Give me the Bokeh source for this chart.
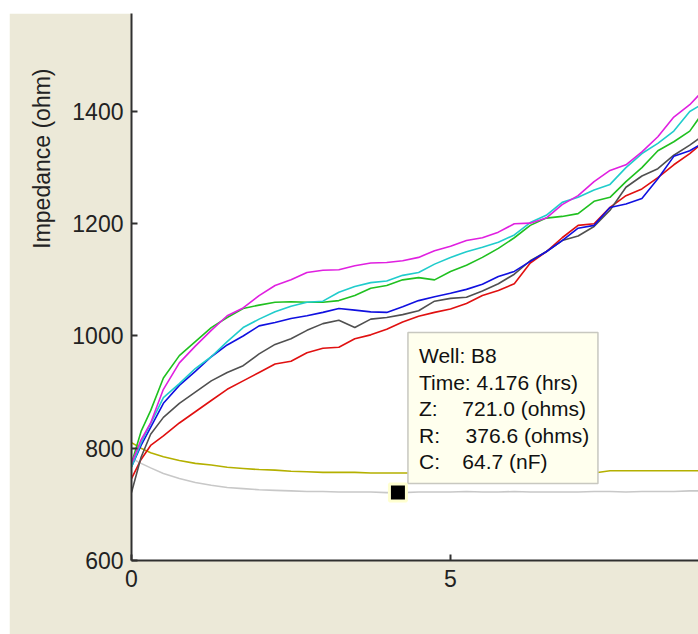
from bokeh.plotting import figure
from bokeh.models import Range1d, FixedTicker, Title, Spacer
from bokeh.layouts import column, row
from bokeh.embed import file_html
from bokeh.resources import INLINE
from bokeh.core.properties import value

# ---- data ----
time_hrs = [0, 0.15, 0.3, 0.5, 0.75, 1.0, 1.25, 1.5, 1.75, 2.0, 2.25, 2.5, 2.75, 3.0,
            3.25, 3.5, 3.75, 4.0, 4.25, 4.5, 4.75, 5.0, 5.25, 5.5, 5.75, 6.0, 6.25,
            6.5, 6.75, 7.0, 7.25, 7.5, 7.75, 8.0, 8.25, 8.5, 8.75, 8.9]

well_magenta = [773, 815, 845, 905, 952, 982, 1010, 1036, 1050, 1072, 1090, 1100, 1113, 1117,
                1118, 1125, 1130, 1131, 1134, 1140, 1152, 1160, 1170, 1175, 1185, 1200, 1201,
                1210, 1234, 1250, 1275, 1295, 1305, 1328, 1355, 1390, 1412, 1430]
well_cyan = [766, 810, 844, 890, 915, 942, 963, 990, 1015, 1030, 1043, 1053, 1060, 1062,
             1078, 1088, 1095, 1098, 1108, 1113, 1128, 1140, 1150, 1158, 1167, 1180, 1202,
             1215, 1238, 1247, 1260, 1270, 1300, 1325, 1343, 1365, 1400, 1410]
well_green = [773, 830, 867, 925, 965, 990, 1015, 1033, 1049, 1055, 1060, 1061, 1060, 1060,
              1063, 1072, 1085, 1090, 1100, 1104, 1100, 1115, 1126, 1140, 1156, 1175, 1197,
              1210, 1213, 1218, 1240, 1247, 1275, 1300, 1330, 1346, 1365, 1389]
well_blue = [767, 805, 837, 880, 912, 937, 963, 984, 1000, 1018, 1024, 1031, 1036, 1042,
             1049, 1046, 1043, 1042, 1052, 1063, 1070, 1076, 1083, 1092, 1106, 1115, 1133,
             1150, 1170, 1192, 1197, 1229, 1235, 1245, 1280, 1320, 1330, 1340]
well_gray = [721, 784, 825, 855, 880, 900, 920, 935, 947, 968, 985, 995, 1010, 1022,
             1028, 1015, 1030, 1033, 1038, 1045, 1062, 1067, 1069, 1080, 1093, 1110, 1134,
             1150, 1170, 1178, 1195, 1224, 1265, 1285, 1298, 1322, 1340, 1352]
well_red = [746, 780, 805, 822, 845, 865, 885, 905, 920, 935, 950, 955, 970, 978,
            980, 995, 1002, 1012, 1025, 1035, 1042, 1048, 1058, 1072, 1081, 1093, 1130,
            1150, 1175, 1197, 1200, 1229, 1250, 1262, 1282, 1305, 1325, 1339]
well_olive = [810, 800, 792, 785, 778, 773, 770, 766, 764, 762, 761, 759, 758, 757,
              757, 757, 756, 756, 756, 756, 756, 756, 756, 756, 756, 756, 756,
              756, 756, 756, 756, 760, 760, 760, 760, 760, 760, 760]
well_lightgray = [782, 773, 765, 755, 746, 739, 734, 730, 728, 726, 725, 724, 723, 723,
                  722, 722, 722, 721, 721, 722, 722, 722, 723, 722, 722, 723, 722,
                  722, 722, 722, 723, 723, 722, 723, 723, 723, 724, 724]

x_ticks = [0, 5]
y_ticks = [600, 800, 1000, 1200, 1400]

# hovered point (tooltip)
sel_well = "B8"
sel_time = 4.176
sel_z = 721.0
sel_r = 376.6
sel_c = 64.7

# ---- figure ----
FONT = "Liberation Sans"
BEIGE = "#ECE9D8"

p = figure(width=689, height=621, output_backend="svg", toolbar_location=None,
           x_range=Range1d(0, 8.887), y_range=Range1d(600, 1574.5),
           min_border_left=122, min_border_right=0, min_border_top=0, min_border_bottom=74)
p.border_fill_color = BEIGE
p.background_fill_color = "white"
p.outline_line_color = None
p.grid.visible = False

p.xaxis.ticker = FixedTicker(ticks=x_ticks)
p.yaxis.ticker = FixedTicker(ticks=y_ticks)
for ax in (p.xaxis, p.yaxis):
    ax.axis_line_color = "#303030"
    ax.axis_line_width = 2
    ax.major_tick_line_color = "#303030"
    ax.major_tick_line_width = 2
    ax.major_tick_in = 6
    ax.major_tick_out = 0
    ax.minor_tick_in = 0
    ax.minor_tick_out = 0
    ax.major_label_text_font = FONT
    ax.major_label_text_font_size = "23px"
    ax.major_label_text_color = "#222222"
p.yaxis.major_label_standoff = 8
p.xaxis.major_label_standoff = 9

series = [
    (well_lightgray, "#C8C8C8"),
    (well_olive, "#B4B000"),
    (well_red, "#E01010"),
    (well_gray, "#505050"),
    (well_blue, "#1010E0"),
    (well_green, "#20C020"),
    (well_cyan, "#20CCCC"),
    (well_magenta, "#E020E0"),
]
for vals, col in series:
    p.line(time_hrs, vals, line_color=col, line_width=1.6)

# y-axis title (placed near the top, as in the reference)
p.add_layout(Title(text="Impedance (ohm)", align="right", offset=55,
                   text_font=FONT, text_font_size="23px", text_font_style="normal",
                   text_color="#222222", standoff=30), "left")

# tooltip box
box_left = sel_time + 0.157
box_right = sel_time + 3.135
box_top = sel_z + 285
box_bottom = sel_z + 16
p.quad(left=[box_left], right=[box_right], top=[box_top], bottom=[box_bottom],
       fill_color="#FFFFEE", line_color="#C8C8C0", line_width=1.5)

lab_x = sel_time + 0.33
val_x = sel_time + 1.01
row_y = [sel_z + 244, sel_z + 196, sel_z + 150, sel_z + 102, sel_z + 55]
p.text(x=[lab_x, lab_x, lab_x, lab_x, lab_x],
       y=row_y,
       text=[f"Well: {sel_well}", f"Time: {sel_time:.3f} (hrs)", "Z:", "R:", "C:"],
       text_font=value(FONT), text_font_size="21px", text_color="#111111",
       text_baseline="middle", text_align="left")
p.text(x=[val_x, val_x + 0.05, val_x],
       y=row_y[2:],
       text=[f"{sel_z:.1f} (ohms)", f"{sel_r:.1f} (ohms)", f"{sel_c:.1f} (nF)"],
       text_font=value(FONT), text_font_size="21px", text_color="#111111",
       text_baseline="middle", text_align="left")

p.scatter(x=[sel_time], y=[sel_z], marker="square", size=17,
          fill_color="black", line_color="#FFFFD0", line_width=3)

layout = row(Spacer(width=9, height=634), column(Spacer(width=689, height=13), p))
open("out.html", "w").write(file_html(layout, INLINE))
